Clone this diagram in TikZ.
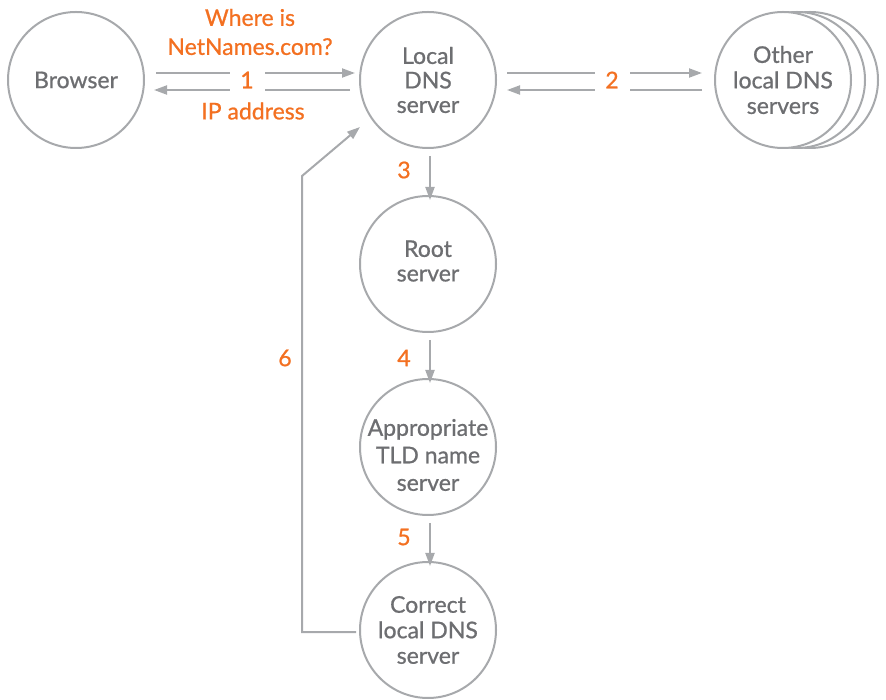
\documentclass[tikz,border=0pt]{standalone}
\usepackage{fontspec}
\setmainfont{Lato}[FakeBold=0.8,UprightFont=*,BoldFont=*]
\usetikzlibrary{arrows.meta,calc}
\definecolor{lgray}{HTML}{A7A9AC}
\definecolor{tgray}{HTML}{6D6E71}
\definecolor{orng}{HTML}{F37021}
\begin{document}
\begin{tikzpicture}[x=1pt,y=1pt,
  srvtext/.style={align=center,text=tgray,font=\fontsize{23}{24.5}\selectfont\bfseries,inner sep=0pt},
  srv/.style={circle,draw=lgray,line width=2pt,minimum size=136pt,inner sep=0pt,srvtext,fill=white},
  arr/.style={draw=lgray,line width=2pt,-{Triangle[length=13pt,width=9pt]}},
  lbl/.style={text=orng,font=\fontsize{23}{29}\selectfont\bfseries,align=center,inner sep=0pt},
  gap/.style={lbl,fill=white,minimum width=35pt,minimum height=30pt}]
\useasboundingbox (0,0) rectangle (886,699);
% nodes
\node[srv] (browser) at (76,619) {Browser};
\node[srv] (local) at (428,619) {Local\\DNS\\server};
\node[srv] (other3) at (810,619) {};
\node[srv] (other2) at (797,619) {};
\node[srv, font=\fontsize{23}{25.5}\selectfont\bfseries] (other) at (783,619) {Other\\local DNS\\servers};
\node[srv, label={[srvtext,yshift=3pt]center:{Root\\server}}] (root) at (428,435) {};
\node[srv, label={[srvtext,font=\fontsize{23}{27.5}\selectfont\bfseries,yshift=-8pt]center:{Appropriate\\TLD name\\server}}] (tld) at (428,252) {};
\node[srv, font=\fontsize{23}{25.5}\selectfont\bfseries] (correct) at (428,69) {Correct\\local DNS\\server};
% step 1
\draw[arr] ([shift={(11,7)}]browser.east) -- ([shift={(-4,7)}]local.west);
\draw[arr] ([shift={(-9,-10)}]local.west) -- ([shift={(9,-10)}]browser.east);
\node[gap] (l1) at (247,619) {1};
\node[lbl] (q) at (250,667) {Where is\\NetNames.com?};
\node[lbl] (ip) at (253,588) {IP address};
% step 2
\draw[arr] ([shift={(10,7)}]local.east) -- ([shift={(-12,7)}]other.west);
\draw[arr] ([shift={(-12,-10)}]other.west) -- ([shift={(10,-10)}]local.east);
\node[gap] (l2) at (612,619) {2};
% step 3-5
\draw[arr] ([shift={(2,-7)}]local.south) -- ([shift={(2,-5)}]root.north);
\node[lbl] (l3) at (404,529) {3};
\draw[arr] ([shift={(2,-7)}]root.south) -- ([shift={(2,-5)}]tld.north);
\node[lbl] (l4) at (404,341) {4};
\draw[arr] ([shift={(2,-7)}]tld.south) -- ([shift={(2,-5)}]correct.north);
\node[lbl] (l5) at (404,162) {5};
% step 6
\coordinate (c1) at (302,67);
\coordinate (c2) at (302,523);
\draw[arr] ([xshift=-3]correct.west |- c1) -- (c1) -- (c2) -- (360,572);
\node[lbl] (l6) at (285,341) {6};
\end{tikzpicture}
\end{document}
